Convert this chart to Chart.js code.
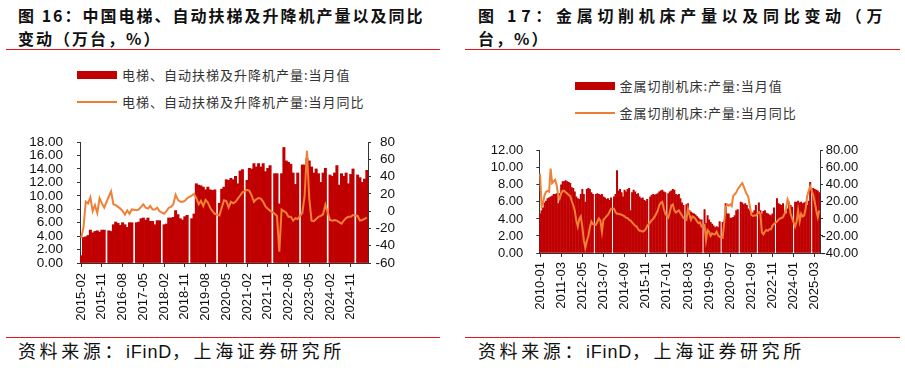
<!DOCTYPE html>
<html><head><meta charset="utf-8">
<script src="https://cdn.jsdelivr.net/npm/chart.js@4.4.1/dist/chart.umd.min.js"></script>
<style>
body{margin:0;width:905px;height:368px;background:#fff;position:relative;overflow:hidden;font-family:"Noto Sans CJK SC","Liberation Sans",sans-serif;}
.abs{position:absolute;white-space:nowrap;}
.title{font-size:16px;font-weight:bold;line-height:23px;color:#111;}
.rule{position:absolute;height:1px;background:#E8141B;}
.lgt{font-size:13px;line-height:16px;color:#333;letter-spacing:1px;}
.src{font-size:18px;line-height:22px;color:#111;letter-spacing:3.6px;font-family:"Liberation Sans","Noto Sans CJK SC",sans-serif;}
.src .lat{letter-spacing:0.8px;}
canvas{position:absolute;}
</style></head>
<body>
<div class="abs title" style="left:18px;top:4px;letter-spacing:2px;">图 16：中国电梯、自动扶梯及升降机产量以及同比<br>变动（万台，%）</div>
<div class="abs title" style="left:478px;top:4px;"><span style="letter-spacing:4.7px;">图 17：金属切削机床产量以及同比变动（万</span><br><span style="letter-spacing:2px;">台，%）</span></div>
<div class="rule" style="left:6px;top:49px;width:434px;"></div>
<div class="rule" style="left:465px;top:49px;width:435px;"></div>

<div class="abs" style="left:77px;top:71px;width:40px;height:8px;background:#C00000;"></div>
<div class="abs lgt" style="left:122px;top:67px;">电梯、自动扶梯及升降机产量:当月值</div>
<div class="abs" style="left:77px;top:101px;width:40px;height:2px;background:#ED7D31;"></div>
<div class="abs lgt" style="left:122px;top:94px;">电梯、自动扶梯及升降机产量:当月同比</div>

<div class="abs" style="left:575px;top:81.5px;width:40px;height:8px;background:#C00000;"></div>
<div class="abs lgt" style="left:619.5px;top:77.5px;">金属切削机床:产量:当月值</div>
<div class="abs" style="left:575px;top:112px;width:40px;height:2px;background:#ED7D31;"></div>
<div class="abs lgt" style="left:619.5px;top:104.7px;">金属切削机床:产量:当月同比</div>

<canvas id="c1" width="450" height="215" style="left:0;top:120px;"></canvas>
<canvas id="c2" width="445" height="205" style="left:460px;top:130px;"></canvas>

<div class="rule" style="left:6px;top:337px;width:434px;"></div>
<div class="rule" style="left:465px;top:336.5px;width:435px;"></div>
<div class="abs src" style="left:18px;top:340.5px;">资料来源：<span class="lat">iFinD</span>，上海证券研究所</div>
<div class="abs src" style="left:478px;top:340.5px;">资料来源：<span class="lat">iFinD</span>，上海证券研究所</div>

<script>
const leftMonths = [
'2015-02','2015-03','2015-04','2015-05','2015-06','2015-07','2015-08','2015-09','2015-10','2015-11','2015-12',
'2016-01','2016-02','2016-03','2016-04','2016-05','2016-06','2016-07','2016-08','2016-09','2016-10','2016-11','2016-12',
'2017-01','2017-02','2017-03','2017-04','2017-05','2017-06','2017-07','2017-08','2017-09','2017-10','2017-11','2017-12',
'2018-01','2018-02','2018-03','2018-04','2018-05','2018-06','2018-07','2018-08','2018-09','2018-10','2018-11','2018-12',
'2019-01','2019-02','2019-03','2019-04','2019-05','2019-06','2019-07','2019-08','2019-09','2019-10','2019-11','2019-12',
'2020-01','2020-02','2020-03','2020-04','2020-05','2020-06','2020-07','2020-08','2020-09','2020-10','2020-11','2020-12',
'2021-01','2021-02','2021-03','2021-04','2021-05','2021-06','2021-07','2021-08','2021-09','2021-10','2021-11','2021-12',
'2022-01','2022-02','2022-03','2022-04','2022-05','2022-06','2022-07','2022-08','2022-09','2022-10','2022-11','2022-12',
'2023-01','2023-02','2023-03','2023-04','2023-05','2023-06','2023-07','2023-08','2023-09','2023-10','2023-11','2023-12',
'2024-01','2024-02','2024-03','2024-04','2024-05','2024-06','2024-07','2024-08','2024-09','2024-10','2024-11','2024-12',
'2025-01','2025-02','2025-03','2025-04','2025-05','2025-06'];

const elevOutput = [
1.1,3.8,3.9,4.1,4.9,4.5,4.7,4.8,4.6,4.9,4.9,
null,4.8,4.7,5.7,6.1,5.9,5.6,6.0,5.7,5.3,6.0,6.0,
null,6.0,6.1,6.6,6.7,6.4,6.7,6.2,6.2,5.7,6.3,6.3,
null,5.7,5.8,6.7,6.7,6.8,7.8,7.2,6.6,6.4,6.9,7.1,
null,6.6,7.3,11.8,11.6,11.5,11.3,10.9,11.3,10.9,10.8,10.9,
null,8.9,11.0,11.3,12.4,12.3,12.6,12.4,12.9,11.8,13.7,13.9,
null,12.3,14.1,14.0,14.8,14.3,14.8,14.3,14.8,13.6,14.1,14.5,
null,13.3,13.3,8.8,13.3,17.2,15.2,15.0,14.7,13.4,11.7,13.4,
null,14.6,14.6,15.6,15.2,14.3,13.4,14.0,13.3,12.0,13.4,14.1,
null,13.1,12.9,13.4,14.5,11.6,13.3,12.9,13.4,11.8,13.2,14.0,
null,13.1,12.7,12.0,12.5,13.8];

const elevYoY = [
-31,-19,11,9,16,0,7,-2,15,9,4,
null,17,23,8,7,5,3,0,-4,1,-3,2,
null,1,2,5,8,4,3,6,2,2,4,0,
null,-3,0,4,5,8,19,13,11,11,12,15,
null,18,20,15,8,12,6,13,10,4,0,-3,
null,-5,4,12.5,11.6,4.4,10.9,9.1,10.9,14.5,18.2,21.8,
null,24.7,23.6,18.2,10.9,13.8,15.3,14.5,10.9,5.5,2.9,0.7,
null,-2.9,-5.5,-47,1.8,0,-1.8,-6.5,-6.5,-10.9,-8,-9,
null,-1.8,18,70,15,-10.9,-11.6,-9,-6.5,-5.5,-3.6,7.3,
null,-10.2,-10.9,-10.2,-10.9,-12.7,-14.5,-10.9,-8,-6.5,-6.5,-4.4,
null,-5.5,-10.9,-10.2,-9,-7.3];

const rightMonths = [
'2010-01','2010-02','2010-03','2010-04','2010-05','2010-06','2010-07','2010-08','2010-09','2010-10','2010-11','2010-12',
'2011-01','2011-02','2011-03','2011-04','2011-05','2011-06','2011-07','2011-08','2011-09','2011-10','2011-11','2011-12',
'2012-01','2012-02','2012-03','2012-04','2012-05','2012-06','2012-07','2012-08','2012-09','2012-10','2012-11','2012-12',
'2013-01','2013-02','2013-03','2013-04','2013-05','2013-06','2013-07','2013-08','2013-09','2013-10','2013-11','2013-12',
'2014-01','2014-02','2014-03','2014-04','2014-05','2014-06','2014-07','2014-08','2014-09','2014-10','2014-11','2014-12',
'2015-01','2015-02','2015-03','2015-04','2015-05','2015-06','2015-07','2015-08','2015-09','2015-10','2015-11','2015-12',
'2016-01','2016-02','2016-03','2016-04','2016-05','2016-06','2016-07','2016-08','2016-09','2016-10','2016-11','2016-12',
'2017-01','2017-02','2017-03','2017-04','2017-05','2017-06','2017-07','2017-08','2017-09','2017-10','2017-11','2017-12',
'2018-01','2018-02','2018-03','2018-04','2018-05','2018-06','2018-07','2018-08','2018-09','2018-10','2018-11','2018-12',
'2019-01','2019-02','2019-03','2019-04','2019-05','2019-06','2019-07','2019-08','2019-09','2019-10','2019-11','2019-12',
'2020-01','2020-02','2020-03','2020-04','2020-05','2020-06','2020-07','2020-08','2020-09','2020-10','2020-11','2020-12',
'2021-01','2021-02','2021-03','2021-04','2021-05','2021-06','2021-07','2021-08','2021-09','2021-10','2021-11','2021-12',
'2022-01','2022-02','2022-03','2022-04','2022-05','2022-06','2022-07','2022-08','2022-09','2022-10','2022-11','2022-12',
'2023-01','2023-02','2023-03','2023-04','2023-05','2023-06','2023-07','2023-08','2023-09','2023-10','2023-11','2023-12',
'2024-01','2024-02','2024-03','2024-04','2024-05','2024-06','2024-07','2024-08','2024-09','2024-10','2024-11','2024-12',
'2025-01','2025-02','2025-03','2025-04','2025-05','2025-06'];

const mtOutput = [
4.6,5.0,5.3,5.9,6.1,6.4,6.5,6.6,6.7,6.9,6.9,7.0,
5.8,7.0,8.0,8.4,8.4,8.5,8.4,8.3,8.2,7.7,7.6,7.2,
6.6,6.4,6.3,6.9,7.5,6.9,6.0,7.5,7.6,7.5,7.1,6.9,
null,6.9,7.0,6.9,6.8,6.9,6.6,6.5,6.3,6.4,6.2,6.5,
null,6.6,6.9,9.7,7.3,7.5,7.1,6.6,7.4,7.2,7.5,7.6,
5.0,7.1,7.4,7.2,6.9,7.0,6.6,6.4,6.5,6.2,6.1,6.3,
null,6.6,6.8,6.9,6.8,6.9,7.0,7.2,7.3,7.4,7.2,7.1,
null,7.0,7.2,7.3,7.5,7.4,6.9,6.8,6.9,6.4,5.9,5.6,
null,5.7,5.8,5.0,4.8,4.7,4.6,4.5,4.3,4.1,3.9,3.9,
null,5.1,3.5,4.4,3.9,3.6,3.4,3.2,3.0,3.1,3.0,3.7,
null,3.6,3.8,5.8,4.6,4.6,4.1,4.1,4.2,4.4,5.0,5.1,
null,6.0,5.9,5.7,5.8,5.6,5.2,5.0,4.8,4.7,5.0,5.6,
null,5.9,5.0,4.6,4.9,5.0,4.7,4.6,4.5,4.4,4.6,5.3,
null,6.4,5.8,5.7,5.6,5.8,4.6,4.6,5.2,6.0,5.6,5.4,
null,6.0,6.0,6.1,5.9,6.0,5.8,5.9,6.0,5.6,6.1,8.3,
null,7.6,7.5,7.4,7.3,7.1];

const mtYoY = [
53,15,19,28,32,33,32,59,42,44,46,40,
28,24,30,33,33,31,30,28,27,21,16,10,
-2,-9,0,3,-9,-25,-34,-26,-20,-10,-3,-6,
null,-7,-3,0.5,-2,-15,-1,1,3,5,8,12,
null,12,8,6,6,5.5,5,4.2,3,1.5,1,-1,
-2,-4,-6,-8,-9,-12,-14,-14,-15,-14,-12,-8,
null,-4,-1.5,0,3,6,10,16,19,20,12,6,
null,1.5,8,15.6,17,10,7.5,9,10,7,4,1,
null,-1,12,5,-1,3,2,0,-3,-5,-4,-9,
null,-7,-25,-13,-15,-20,-17,-18,-18,-15,-19,-21,
null,-22,-5,14,17,15.6,17,15,27,29,31,35,
null,40,42,38,33,29,26,15,5,3.5,4,4,
null,8,6,-16,-18,-15,-13,-14,-12,-12,-8,-6,
null,-3,-1,0.5,1,2.3,6,12,23,19,6,1,
null,-9,-3,10,-3,6,3,4,12,27,33,38,
null,28,20,10,2,10];

const leftTicks = { barMin: 0, barMax: 18, barStep: 2, yoyMin: -60, yoyMax: 80, yoyStep: 20, every: 9 };
const rightTicks = { barMin: 0, barMax: 12, barStep: 2, yoyMin: -40, yoyMax: 80, yoyStep: 20, every: 14 };

Chart.defaults.font.family = '"Liberation Sans", Arial, sans-serif';
Chart.defaults.color = '#111';

function build(id, labels, bars, yoy, t, geo) {
  const axisColor = '#333';
  new Chart(document.getElementById(id), {
    type: 'bar',
    data: {
      labels: labels,
      datasets: [
        { type: 'line', data: yoy, yAxisID: 'y1', borderColor: '#EF8035', borderWidth: 2,
          pointRadius: 0, tension: 0, spanGaps: true, order: 0 },
        { type: 'bar', data: bars, yAxisID: 'y', backgroundColor: '#C00000', borderWidth: 0,
          barPercentage: 1.0, categoryPercentage: 1.0, inflateAmount: geo.inflate, order: 1 }
      ]
    },
    options: {
      responsive: false, animation: false, devicePixelRatio: 1,
      layout: { padding: { left: 0, right: geo.padRight, top: geo.padTop, bottom: 0 } },
      plugins: { legend: { display: false }, tooltip: { enabled: false } },
      scales: {
        x: {
          offset: true,
          grid: { offset: false, drawOnChartArea: false, tickLength: 4,
                  color: c => (c.index % t.every === 0 ? axisColor : 'rgba(0,0,0,0)') },
          border: { color: axisColor },
          ticks: { autoSkip: false, maxRotation: 90, minRotation: 90, padding: geo.xPad,
                   font: { size: 13 },
                   callback: function (v, i) { return i % t.every === 0 ? this.getLabelForValue(v) : ''; } },
          afterFit: s => { s.height = geo.xHeight; }
        },
        y: {
          position: 'left', min: t.barMin, max: t.barMax,
          ticks: { stepSize: t.barStep, autoSkip: false, padding: geo.yPad, font: { size: geo.yFont },
                   callback: v => Number(v).toFixed(2) },
          grid: { drawOnChartArea: false, tickLength: 3, color: axisColor },
          border: { color: axisColor },
          afterFit: s => { s.width = geo.leftW; }
        },
        y1: {
          position: 'right', min: t.yoyMin, max: t.yoyMax,
          ticks: { stepSize: t.yoyStep, autoSkip: false, padding: 3, crossAlign: 'far', font: { size: geo.yFont },
                   callback: v => geo.yoyDec ? Number(v).toFixed(2) : String(v) },
          grid: { drawOnChartArea: false, tickLength: 3, color: axisColor },
          border: { color: axisColor },
          afterFit: s => { s.width = geo.rightW; }
        }
      }
    }
  });
}

build('c1', leftMonths, elevOutput, elevYoY, leftTicks,
  { padRight: 55, padTop: 15, xPad: 6, xHeight: 72, yPad: 14, yFont: 13.5, leftW: 80, rightW: 27, yoyDec: false, inflate: 0.35 });
build('c2', rightMonths, mtOutput, mtYoY, rightTicks,
  { padRight: 46.7, padTop: 17, xPad: 5, xHeight: 82, yPad: 13, yFont: 13, leftW: 79.3, rightW: 38.3, yoyDec: true, inflate: 0.25 });
</script>
</body></html>
